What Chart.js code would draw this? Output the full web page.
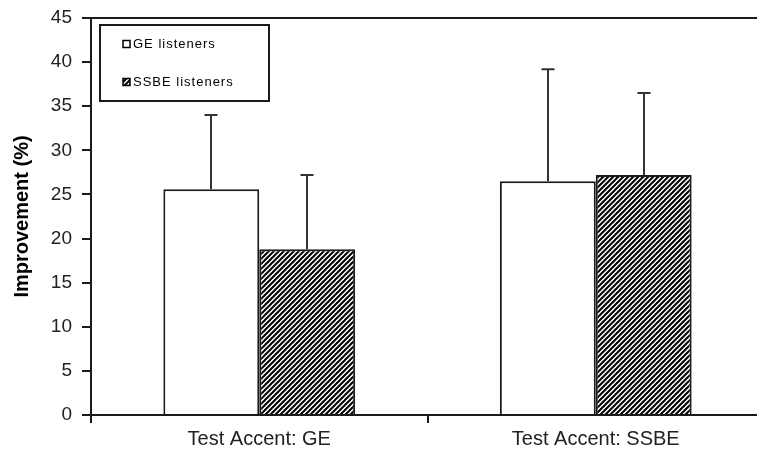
<!DOCTYPE html>
<html>
<head>
<meta charset="utf-8">
<script src="https://cdn.jsdelivr.net/npm/chart.js@4/dist/chart.umd.min.js"></script>
<style>
  html, body { margin: 0; padding: 0; background: #fff; }
  #wrap { width: 757px; height: 458px; overflow: hidden; }
  #chart { display: block; }
</style>
</head>
<body>
<div id="wrap"><canvas id="chart" width="764" height="458"></canvas></div>
<script>
// Mean improvement (%) by test accent, for each listener group, with SD error bars
const categories = ['Test Accent: GE', 'Test Accent: SSBE'];
const seriesLabels = ['GE listeners', 'SSBE listeners'];
const geListeners = [25.6, 26.5];
const ssbeListeners = [18.8, 27.2];
const geErrors = [8.4, 12.7];
const ssbeErrors = [8.4, 9.3];
const yMin = 0, yMax = 45, yStep = 5;

const INK = '#1a1a1a';
const FONT = '"Liberation Sans", Arial, Helvetica, sans-serif';

// Diagonal "/" hatch used for the SSBE listener bars
function makeHatch() {
  const p = 5;
  const c = document.createElement('canvas');
  c.width = p; c.height = p;
  const g = c.getContext('2d');
  g.fillStyle = '#fff';
  g.fillRect(0, 0, p, p);
  g.strokeStyle = '#000';
  g.lineWidth = 2;
  g.beginPath();
  g.moveTo(-1, p + 1); g.lineTo(p + 1, -1);
  g.moveTo(-1, 1); g.lineTo(1, -1);
  g.moveTo(p - 1, p + 1); g.lineTo(p + 1, p - 1);
  g.stroke();
  return g.createPattern(c, 'repeat');
}
const hatch = makeHatch();

const errorSets = [geErrors, ssbeErrors];

// Error bars drawn upward from each bar top, with a short cap
const errorBars = {
  id: 'errorBars',
  afterDatasetsDraw(chart) {
    const ctx = chart.ctx;
    const y = chart.scales.y;
    ctx.save();
    ctx.strokeStyle = '#333';
    ctx.lineWidth = 2;
    chart.data.datasets.forEach((ds, di) => {
      const meta = chart.getDatasetMeta(di);
      meta.data.forEach((bar, i) => {
        const top = y.getPixelForValue(ds.data[i] + errorSets[di][i]);
        const x = Math.round(bar.x);
        ctx.beginPath();
        ctx.moveTo(x, bar.y);
        ctx.lineTo(x, top);
        ctx.moveTo(x - 6.5, top);
        ctx.lineTo(x + 6.5, top);
        ctx.stroke();
      });
    });
    ctx.restore();
  }
};

// Top frame line and boxed legend in the upper-left of the plot
const frameAndLegend = {
  id: 'frameAndLegend',
  afterDraw(chart) {
    const ctx = chart.ctx;
    const a = chart.chartArea;
    ctx.save();
    ctx.strokeStyle = INK;
    ctx.lineWidth = 2;
    ctx.beginPath();
    ctx.moveTo(a.left, a.top);
    ctx.lineTo(chart.width, a.top);
    ctx.stroke();

    const bx = a.left + 9, by = a.top + 7, bw = 169, bh = 76;
    ctx.strokeRect(bx, by, bw, bh);

    ctx.font = '13px ' + FONT;
    ctx.letterSpacing = '1px';
    ctx.textBaseline = 'middle';
    const rows = [by + 19, by + 57];
    chart.data.datasets.forEach((ds, i) => {
      const cy = rows[i];
      const sx = bx + 23;
      ctx.fillStyle = ds.backgroundColor;
      ctx.fillRect(sx, cy - 3.5, 7, 7);
      ctx.lineWidth = 1.5;
      ctx.strokeStyle = '#000';
      ctx.strokeRect(sx, cy - 3.5, 7, 7);
      ctx.fillStyle = '#000';
      ctx.fillText(ds.label, sx + 10, cy);
    });
    ctx.restore();
  }
};

new Chart(document.getElementById('chart'), {
  type: 'bar',
  data: {
    labels: categories,
    datasets: [
      {
        label: seriesLabels[0],
        data: geListeners,
        backgroundColor: '#ffffff',
        borderColor: INK,
        borderWidth: 2,
        borderSkipped: 'bottom'
      },
      {
        label: seriesLabels[1],
        data: ssbeListeners,
        backgroundColor: hatch,
        borderColor: INK,
        borderWidth: 2,
        borderSkipped: 'bottom'
      }
    ]
  },
  options: {
    responsive: false,
    animation: false,
    layout: { padding: { top: 18, left: 0, right: 0, bottom: 0 } },
    plugins: { legend: { display: false }, tooltip: { enabled: false } },
    datasets: { bar: { barPercentage: 1.0, categoryPercentage: 0.57 } },
    scales: {
      x: {
        offset: true,
        grid: { offset: true, drawOnChartArea: false, drawTicks: true, tickLength: 8, color: INK, lineWidth: 2 },
        border: { display: true, color: INK, width: 2 },
        ticks: { color: '#222', font: { family: FONT, size: 20 }, padding: 4 },
        afterFit(s) { s.height = 43; }
      },
      y: {
        min: yMin,
        max: yMax,
        grid: { drawOnChartArea: false, drawTicks: true, tickLength: 9, color: INK, lineWidth: 2 },
        border: { display: true, color: INK, width: 2 },
        ticks: { stepSize: yStep, color: '#222', font: { family: FONT, size: 19 }, padding: 10 },
        title: {
          display: true,
          text: 'Improvement (%)',
          color: '#000',
          font: { family: FONT, size: 20, weight: 'bold' },
          padding: { top: 10, bottom: 0 }
        },
        afterFit(s) {
          s.width = 91;
          s.paddingTop = 0;
          s.paddingBottom = 0;
        }
      }
    }
  },
  plugins: [errorBars, frameAndLegend]
});
</script>
</body>
</html>
